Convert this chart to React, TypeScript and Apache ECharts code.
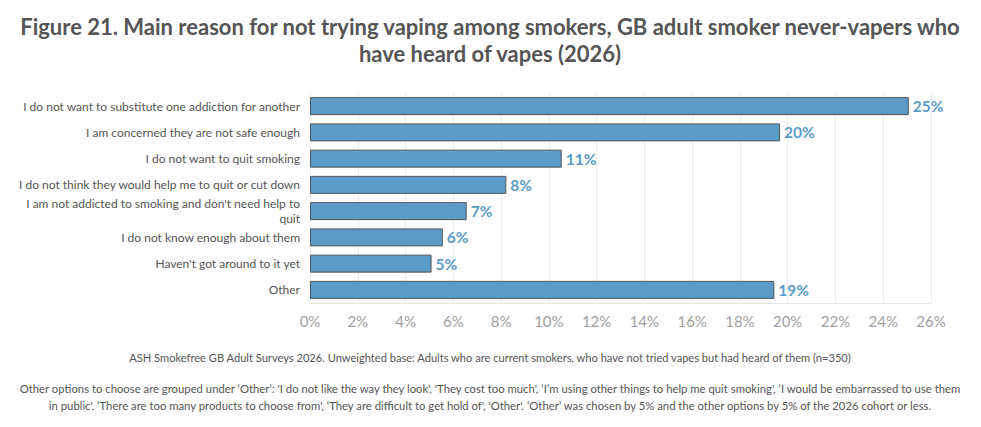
import React, { useEffect, useRef } from "react";
import * as echarts from "echarts";

const titleLines = [
  "Figure 21. Main reason for not trying vaping among smokers, GB adult smoker never-vapers who",
  "have heard of vapes (2026)",
];

const categories = [
  "I do not want to substitute one addiction for another",
  "I am concerned they are not safe enough",
  "I do not want to quit smoking",
  "I do not think they would help me to quit or cut down",
  "I am not addicted to smoking and don't need help to\nquit",
  "I do not know enough about them",
  "Haven't got around to it yet",
  "Other",
];

const values = [25.07, 19.68, 10.54, 8.22, 6.56, 5.56, 5.09, 19.44];

const xTicks = { min: 0, max: 26, interval: 2 };

const sourceNote =
  "ASH Smokefree GB Adult Surveys 2026. Unweighted base: Adults who are current smokers, who have not tried vapes but had heard of them (n=350)";

const otherNoteLines = [
  "Other options to choose are grouped under \u2018Other\u2019: 'I do not like the way they look', 'They cost too much', \u2018I\u2019m using other things to help me quit smoking', \u2018I would be embarrassed to use them",
  "in public', \u2018There are too many products to choose from', \u2018They are difficult to get hold of', 'Other'. \u2018Other\u2019 was chosen by 5% and the other options by 5% of the 2026 cohort or less.",
];

const FONT = "Lato";

export default function App() {
  const ref = useRef<HTMLDivElement>(null);

  useEffect(() => {
    document.body.style.margin = "0";
    const chart = echarts.init(ref.current!, null, { renderer: "svg" });
    const textEl = (
      text: string,
      y: number,
      size: number,
      weight: string,
      color: string
    ) => ({
      type: "text",
      x: 490,
      y,
      style: {
        text,
        fontFamily: FONT,
        fontSize: size,
        fontWeight: weight,
        fill: color,
        align: "center",
        verticalAlign: "middle",
      },
    });
    chart.setOption({
      animation: false,
      textStyle: { fontFamily: FONT },
      graphic: [
        textEl(titleLines[0], 26, 22, "bold", "#555555"),
        textEl(titleLines[1], 53, 22, "bold", "#555555"),
        textEl(sourceNote, 357, 11.1, "normal", "#555555"),
        textEl(otherNoteLines[0], 388, 11.3, "normal", "#555555"),
        textEl(otherNoteLines[1], 405, 11.3, "normal", "#555555"),
      ],
      grid: { left: 310, right: 50, top: 93, bottom: 124, containLabel: false },
      xAxis: {
        type: "value",
        min: xTicks.min,
        max: xTicks.max,
        interval: xTicks.interval,
        axisLine: { show: true, lineStyle: { color: "#e6e6e6" } },
        axisTick: { show: false },
        splitLine: { show: true, lineStyle: { color: "#ececec", width: 1 } },
        axisLabel: {
          formatter: (v: number) => `${v}%`,
          color: "#a0a0a0",
          fontSize: 15,
          margin: 10,
          fontFamily: FONT,
        },
      },
      yAxis: {
        type: "category",
        data: categories,
        inverse: true,
        axisLine: { show: false },
        axisTick: { show: false },
        axisLabel: {
          color: "#555555",
          fontSize: 12,
          fontFamily: FONT,
          margin: 10,
          lineHeight: 15,
          align: "right",
        },
      },
      series: [
        {
          type: "bar",
          data: values,
          barWidth: 18,
          itemStyle: {
            color: "#5b9bc8",
            borderColor: "#555555",
            borderWidth: 1,
          },
          label: {
            show: true,
            position: "right",
            distance: 4,
            formatter: (p: any) => `${Math.round(p.value)}%`,
            color: "#5b9bc8",
            fontSize: 15.5,
            fontWeight: "bold",
            fontFamily: FONT,
          },
        },
      ],
    });
    return () => chart.dispose();
  }, []);

  return <div ref={ref} style={{ width: 981, height: 427 }} />;
}
